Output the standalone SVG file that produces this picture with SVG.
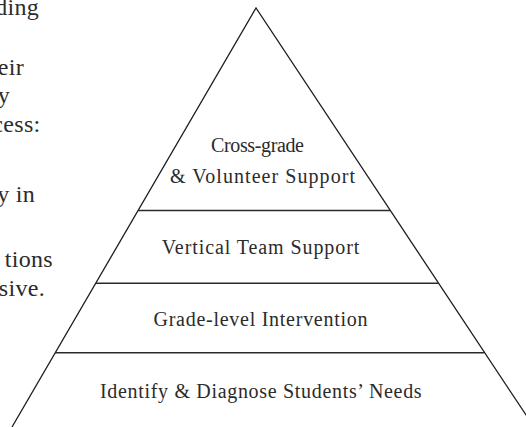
<svg xmlns="http://www.w3.org/2000/svg" width="526" height="427" viewBox="0 0 526 427">
  <style>
    .body { font-family: 'Liberation Serif', 'DejaVu Serif', serif; font-size: 24px; letter-spacing: 0.3px; fill: #2b2b2b; text-anchor: end; }
    .tier { font-family: 'Liberation Serif', 'DejaVu Serif', serif; font-size: 20px; fill: #2b2b2b; text-anchor: middle; }
    .edge { stroke: #1e1e1e; stroke-width: 1.3; fill: none; }
    .divider { stroke: #2a2a2a; stroke-width: 1.5; fill: none; }
  </style>
  <rect width="526" height="427" fill="#ffffff"/>

  <!-- running body text, cut at the left margin -->
  <g id="body-text">
    <text class="body" x="39" y="15">ding</text>
    <text class="body" x="24" y="75">eir</text>
    <text class="body" x="10" y="103">y</text>
    <text class="body" x="40.5" y="132">cess:</text>
    <text class="body" x="35" y="202">y in</text>
    <text class="body" x="53" y="267">tions</text>
    <text class="body" x="45" y="296">sive.</text>
  </g>

  <!-- pyramid outline and tier dividers -->
  <g id="connectors">
    <polyline class="edge" points="12,427 256,8 534,427"/>
    <line class="divider" x1="138" y1="210.5" x2="390" y2="210.5"/>
    <line class="divider" x1="96" y1="283.3" x2="438" y2="283.3"/>
    <line class="divider" x1="55" y1="352.7" x2="484" y2="352.7"/>
  </g>

  <g id="tier-cross-grade">
    <text class="tier" x="257.5" y="151.5" textLength="93" lengthAdjust="spacing">Cross-grade</text>
    <text class="tier" x="262.5" y="182.7" textLength="185" lengthAdjust="spacing">&amp; Volunteer Support</text>
  </g>

  <g id="tier-vertical-team">
    <text class="tier" x="260.5" y="254.3" textLength="197.6" lengthAdjust="spacing">Vertical Team Support</text>
  </g>

  <g id="tier-grade-level">
    <text class="tier" x="260.5" y="326" textLength="214" lengthAdjust="spacing">Grade-level Intervention</text>
  </g>

  <g id="tier-identify">
    <text class="tier" x="260.8" y="398.3" textLength="321.7" lengthAdjust="spacing">Identify &amp; Diagnose Students’ Needs</text>
  </g>
</svg>
